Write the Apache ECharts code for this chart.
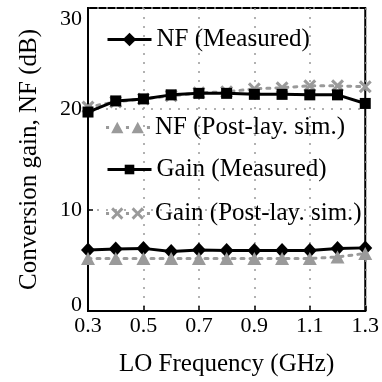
<!DOCTYPE html>
<html>
<head>
<meta charset="utf-8">
<script src="https://cdn.jsdelivr.net/npm/echarts@6/dist/echarts.min.js"></script>
<style>
  html, body { margin: 0; padding: 0; background: #fff; }
  #chart { width: 382px; height: 382px; }
</style>
</head>
<body>
<div id="chart"></div>
<script>
// LO frequency points (GHz)
const freq = ['0.3', '0.4', '0.5', '0.6', '0.7', '0.8', '0.9', '1.0', '1.1', '1.2', '1.3'];

// values in dB
const nfMeasured = [6.05, 6.15, 6.2, 5.9, 6.05, 6.0, 6.0, 6.0, 6.0, 6.2, 6.25];
const nfSim = [5.2, 5.2, 5.2, 5.2, 5.2, 5.2, 5.2, 5.2, 5.2, 5.35, 5.7];
const gainMeasured = [19.7, 20.8, 21.0, 21.4, 21.55, 21.55, 21.45, 21.45, 21.4, 21.4, 20.55];
const gainSim = [20.2, 20.7, 21.0, 21.3, 21.6, 21.7, 22.0, 22.1, 22.3, 22.3, 22.2];

const FONT = 'Liberation Serif';
const GRAY = '#9a9a9a';

function crossAt(ox) {
  const p = [[2,0],[6,4],[10,0],[12,2],[8,6],[12,10],[10,12],[6,8],[2,12],[0,10],[4,6],[0,2]];
  return 'M' + p.map(q => (q[0] + ox) + ',' + q[1]).join('L') + 'Z';
}
const crossPath = 'path://' + crossAt(0);
const dot = (x, y) => 'M' + x + ',' + y + 'h3v3h-3z';
const triLegendIcon = 'path://' + dot(0, 6) + 'M5,13L11,2L17,13Z' + dot(19.5, 6) +
  'M25,13L31,2L37,13Z' + dot(40, 6);
const crossLegendIcon = 'path://' + dot(0, 4.5) + crossAt(5) + dot(19.5, 4.5) +
  crossAt(25) + dot(40, 4.5);

const chart = echarts.init(document.getElementById('chart'));

function legendAt(top, name, icon, h) {
  return {
    left: 106,
    top: top,
    padding: 0,
    selectedMode: false,
    itemWidth: 44,
    itemHeight: h,
    lineStyle: { width: 3 },
    textStyle: { fontFamily: FONT, fontSize: 25, color: '#000' },
    data: [icon ? { name: name, icon: icon } : name]
  };
}

const option = {
  animation: false,
  backgroundColor: '#fff',
  grid: {
    left: 88, right: 6, top: 8, bottom: 71,
    show: true, borderColor: '#000', borderWidth: 2
  },
  legend: [
    legendAt(27, 'NF (Measured)', null, 17),
    legendAt(115, 'NF (Post-lay. sim.)', triLegendIcon, 13),
    legendAt(157, 'Gain (Measured)', null, 12),
    legendAt(201, 'Gain (Post-lay. sim.)', crossLegendIcon, 13)
  ],
  xAxis: {
    type: 'category',
    data: freq,
    boundaryGap: false,
    name: 'LO Frequency (GHz)',
    nameLocation: 'middle',
    nameGap: 41,
    nameTextStyle: { fontFamily: FONT, fontSize: 25, color: '#000' },
    axisLine: { lineStyle: { color: '#000', width: 2 } },
    axisTick: { inside: true, length: 5, interval: 1, lineStyle: { color: '#000', width: 1.5 } },
    axisLabel: { interval: 1, margin: 4, fontFamily: FONT, fontSize: 22, color: '#000' },
    splitLine: { show: true, interval: 1, lineStyle: { color: '#999', type: [2, 7], width: 1.5 } }
  },
  yAxis: {
    type: 'value',
    min: 0, max: 30, interval: 10,
    name: 'Conversion gain, NF (dB)',
    nameLocation: 'middle',
    nameGap: 46,
    nameTextStyle: { fontFamily: FONT, fontSize: 25, color: '#000' },
    axisLine: { show: true, lineStyle: { color: '#000', width: 2 } },
    axisTick: { show: true, inside: true, length: 5, lineStyle: { color: '#000', width: 1.5 } },
    axisLabel: {
      margin: 6, fontFamily: FONT, fontSize: 22, color: '#000',
      verticalAlignMinLabel: 'bottom', verticalAlignMaxLabel: 'top',
      formatter: v => (v === 0 ? '{lo|0}' : String(v)),
      rich: { lo: { fontFamily: FONT, fontSize: 22, color: '#000', lineHeight: 12 } }
    },
    splitLine: { show: true, lineStyle: { color: '#999', type: [2, 7], width: 1.5 } }
  },
  series: [
    {
      name: 'Gain (Post-lay. sim.)', type: 'line', data: gainSim,
      symbol: crossPath, symbolSize: 13, color: GRAY,
      lineStyle: { color: GRAY, width: 3, type: [3, 6], cap: 'round' },
      z: 2
    },
    {
      name: 'Gain (Measured)', type: 'line', data: gainMeasured,
      symbol: 'rect', symbolSize: 11, color: '#000',
      lineStyle: { color: '#000', width: 3 },
      z: 3
    },
    {
      name: 'NF (Measured)', type: 'line', data: nfMeasured,
      symbol: 'diamond', symbolSize: [14, 15], color: '#000',
      lineStyle: { color: '#000', width: 3 },
      z: 3
    },
    {
      name: 'NF (Post-lay. sim.)', type: 'line', data: nfSim,
      symbol: 'triangle', symbolSize: [14, 13], color: GRAY,
      lineStyle: { color: GRAY, width: 3, type: [3, 6], cap: 'round' },
      z: 4
    }
  ]
};

chart.setOption(option);
</script>
</body>
</html>
